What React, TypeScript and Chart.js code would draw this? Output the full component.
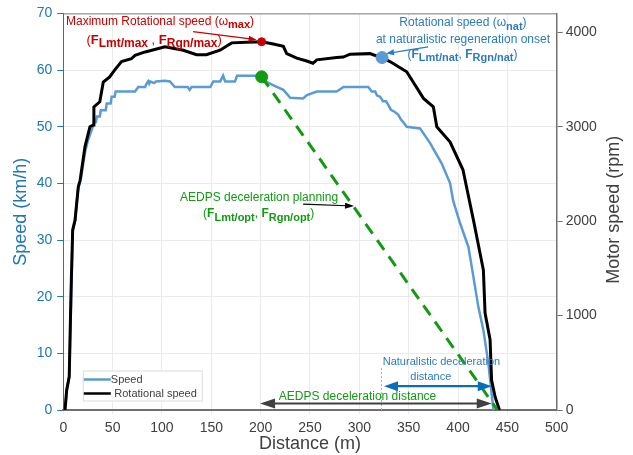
import React, { useEffect, useRef } from 'react';
import { Chart, registerables } from 'chart.js';

Chart.register(...registerables);

// Vehicle speed (km/h) vs distance (m)
const speedDist = [2, 3.5, 6, 8, 9.5, 12, 15, 18, 22, 25, 30, 31, 33, 34, 37, 38, 43, 44, 48, 49, 52, 53, 72.7, 76, 83, 84, 86, 87, 88, 92, 94, 103, 108, 111, 113, 126, 128, 130, 149, 152, 159, 162, 164, 174, 176, 199, 206, 213, 223, 230, 243, 247, 257, 277, 284, 309, 312.6, 316, 318, 321, 324, 327, 329.5, 332, 336, 339.5, 342, 345, 348, 361.5, 371.7, 383.5, 392, 395, 402, 410.5, 415.6, 420.6, 425.7, 430.8, 434, 436];
const speedKmh = [0, 3.5, 5.8, 20, 31.5, 33.5, 39, 41, 45.5, 47.6, 50, 50.8, 50.8, 51.8, 51.8, 52.9, 52.9, 54.1, 54.1, 55.3, 55.3, 56.2, 56.2, 57, 57, 57.5, 58, 57.6, 58, 57.7, 58, 58.1, 58, 57.4, 57, 57, 56.5, 57, 57, 58, 58, 59, 58, 58, 59, 59, 57.9, 57.3, 56.5, 55.1, 55, 55.6, 56.2, 56.2, 57, 57, 56.2, 56.2, 55.5, 55.3, 54.5, 54.5, 53.8, 53, 52.6, 52.1, 51.3, 50.7, 50, 49.7, 47.1, 43.5, 40, 37, 33, 28.8, 23.5, 18.2, 14.1, 8.2, 2.9, 0];

// Motor rotational speed (rpm) vs distance (m)
const rotDist = [1.7, 3.4, 6, 7.8, 9.5, 11.9, 15.2, 17, 22, 27, 30.4, 31, 37, 40.5, 47, 52, 59, 69, 72.7, 83, 103, 121.6, 135, 145, 158.8, 170.6, 185.9, 201, 212.8, 223, 226.4, 236.6, 246.7, 253, 256.9, 277, 283.8, 290.6, 310.9, 314, 323, 331, 348, 365, 375, 378.5, 392, 405, 416, 425.7, 427.4, 432.5, 434, 437.6, 442];
const rotRpm = [0, 210, 354, 1236, 1908, 2010, 2364, 2430, 2790, 3000, 3018, 3210, 3264, 3474, 3528, 3600, 3690, 3720, 3756, 3792, 3846, 3810, 3762, 3762, 3810, 3888, 3894, 3900, 3876, 3852, 3774, 3726, 3696, 3672, 3708, 3732, 3738, 3768, 3774, 3762, 3732, 3690, 3582, 3300, 3210, 3000, 2838, 2544, 1992, 1482, 1026, 744, 318, 138, 0];

// AEDPS planned deceleration (km/h)
const planDist = [201, 440];
const planKmh = [58.8, 0];

// Marked points
const maxRotPoint = { x: 201, y: 3900 };
const natRotPoint = { x: 323, y: 3732 };
const planStartPoint = { x: 201, y: 58.8 };

// Axes
const xTicks = [0, 50, 100, 150, 200, 250, 300, 350, 400, 450, 500];
const speedTicks = [0, 10, 20, 30, 40, 50, 60, 70];
const rpmTicks = [0, 1000, 2000, 3000, 4000];
const rpmMax = 4200;

const FONT = '"Liberation Sans", Arial, sans-serif';
const BLUE_AX = '#1f77b4';
const DARK = '#404040';
const RED = '#c80000';
const NAT_BLUE = '#2d7bbd';
const GREEN = '#139a13';

type Seg = { t: string; bold?: boolean; sub?: boolean };

function drawRich(ctx: CanvasRenderingContext2D, segs: Seg[], x: number, y: number, align: 'left' | 'center', size: number, color: string) {
  const fontOf = (s: Seg) => `${s.bold ? 'bold ' : ''}${s.sub ? Math.round(size * 0.9) : size}px ${FONT}`;
  let total = 0;
  const widths = segs.map((s) => {
    ctx.font = fontOf(s);
    const w = ctx.measureText(s.t).width;
    total += w;
    return w;
  });
  let cx = align === 'center' ? x - total / 2 : x;
  ctx.fillStyle = color;
  ctx.textBaseline = 'middle';
  ctx.textAlign = 'left';
  segs.forEach((s, i) => {
    ctx.font = fontOf(s);
    ctx.fillText(s.t, cx, s.sub ? y + size * 0.3 : y);
    cx += widths[i];
  });
}

function arrowHead(ctx: CanvasRenderingContext2D, tx: number, ty: number, angle: number, len: number, half: number, color: string) {
  ctx.save();
  ctx.translate(tx, ty);
  ctx.rotate(angle);
  ctx.beginPath();
  ctx.moveTo(0, 0);
  ctx.lineTo(-len, -half);
  ctx.lineTo(-len, half);
  ctx.closePath();
  ctx.fillStyle = color;
  ctx.fill();
  ctx.restore();
}

function arrow(ctx: CanvasRenderingContext2D, x1: number, y1: number, x2: number, y2: number, color: string, lw: number, len: number, half: number, both = false) {
  const ang = Math.atan2(y2 - y1, x2 - x1);
  ctx.save();
  ctx.strokeStyle = color;
  ctx.lineWidth = lw;
  ctx.beginPath();
  const sx = both ? x1 + Math.cos(ang) * len * 0.8 : x1;
  const sy = both ? y1 + Math.sin(ang) * len * 0.8 : y1;
  ctx.moveTo(sx, sy);
  ctx.lineTo(x2 - Math.cos(ang) * len * 0.8, y2 - Math.sin(ang) * len * 0.8);
  ctx.stroke();
  ctx.restore();
  arrowHead(ctx, x2, y2, ang, len, half, color);
  if (both) arrowHead(ctx, x1, y1, ang + Math.PI, len, half, color);
}

const annotPlugin = {
  id: 'annot',
  afterDatasetsDraw(chart: any) {
    const { ctx, chartArea, scales } = chart;
    const x = scales.x, y = scales.y, y2 = scales.y2;
    const P = (m: number, v: number) => [x.getPixelForValue(m), y.getPixelForValue(v)];
    ctx.save();

    // top border
    ctx.strokeStyle = '#808080';
    ctx.lineWidth = 1;
    ctx.beginPath();
    ctx.moveTo(chartArea.left, chartArea.top + 0.5);
    ctx.lineTo(chartArea.right, chartArea.top + 0.5);
    ctx.stroke();

    // Right axis title (reads bottom-to-top)
    ctx.save();
    ctx.translate(614, (chartArea.top + chartArea.bottom) / 2 - 2);
    ctx.rotate(-Math.PI / 2);
    ctx.font = `18px ${FONT}`;
    ctx.fillStyle = DARK;
    ctx.textAlign = 'center';
    ctx.textBaseline = 'middle';
    ctx.fillText('Motor speed (rpm)', 0, 0);
    ctx.restore();

    // Red annotation
    let [ax, ay] = P(2.7, 68.6);
    drawRich(ctx, [{ t: 'Maximum Rotational speed (ω' }, { t: 'max', bold: true, sub: true }, { t: ')' }], ax, ay, 'left', 12, RED);
    [ax, ay] = P(92, 65.3);
    drawRich(ctx, [{ t: '(' }, { t: 'F', bold: true }, { t: 'Lmt/max', bold: true, sub: true }, { t: ' , ' }, { t: 'F', bold: true }, { t: 'Rgn/max', bold: true, sub: true }, { t: ')' }], ax, ay, 'center', 13, RED);
    const rdx = x.getPixelForValue(maxRotPoint.x), rdy = y2.getPixelForValue(maxRotPoint.y);
    const [r1x, r1y] = P(131.5, 66.8);
    arrow(ctx, r1x, r1y, rdx - 5, rdy - 2, RED, 1.2, 8, 3);

    // Blue annotation
    [ax, ay] = P(405, 68.3);
    drawRich(ctx, [{ t: 'Rotational speed (ω' }, { t: 'nat', bold: true, sub: true }, { t: ')' }], ax, ay, 'center', 12, NAT_BLUE);
    [ax, ay] = P(405, 65.3);
    drawRich(ctx, [{ t: 'at naturalistic regeneration onset' }], ax, ay, 'center', 12, NAT_BLUE);
    [ax, ay] = P(404.5, 62.7);
    drawRich(ctx, [{ t: '(' }, { t: 'F', bold: true }, { t: 'Lmt/nat', bold: true, sub: true }, { t: ', ' }, { t: 'F', bold: true }, { t: 'Rgn/nat', bold: true, sub: true }, { t: ')' }], ax, ay, 'center', 12, NAT_BLUE);
    const bdx = x.getPixelForValue(natRotPoint.x), bdy = y2.getPixelForValue(natRotPoint.y);
    const [b1x, b1y] = P(369.7, 64.1);
    arrow(ctx, b1x, b1y, bdx + 4, bdy - 4, NAT_BLUE, 1.2, 8, 3);

    // Green planning annotation
    [ax, ay] = P(198.4, 37.4);
    drawRich(ctx, [{ t: 'AEDPS deceleration planning' }], ax, ay, 'center', 12, GREEN);
    [ax, ay] = P(198, 34.6);
    drawRich(ctx, [{ t: '(' }, { t: 'F', bold: true }, { t: 'Lmt/opt', bold: true, sub: true }, { t: ', ' }, { t: 'F', bold: true }, { t: 'Rgn/opt', bold: true, sub: true }, { t: ')' }], ax, ay, 'center', 12, GREEN);
    const [k1x, k1y] = P(243, 36.35);
    const [k2x, k2y] = P(294.6, 36.0);
    arrow(ctx, k1x, k1y, k2x, k2y, '#000000', 1.2, 9, 3);

    // Naturalistic deceleration distance
    [ax, ay] = P(323.7, 8.5);
    drawRich(ctx, [{ t: 'Naturalistic deceleration' }], ax, ay, 'left', 11, NAT_BLUE);
    [ax, ay] = P(372.4, 5.8);
    drawRich(ctx, [{ t: 'distance' }], ax, ay, 'center', 11, NAT_BLUE);
    const [d1x, dy] = P(325, 4.2);
    const [d2x] = P(434.2, 4.2);
    arrow(ctx, d1x, dy, d2x, dy, '#0a6db8', 2.2, 14, 5, true);
    const [gx, gy1] = P(321.7, 7.4);
    const [, gy2] = P(321.7, 0);
    ctx.save();
    ctx.strokeStyle = '#b0b0b0';
    ctx.lineWidth = 1;
    ctx.setLineDash([2, 2]);
    ctx.beginPath();
    ctx.moveTo(Math.round(gx) + 0.5, gy1);
    ctx.lineTo(Math.round(gx) + 0.5, gy2);
    ctx.stroke();
    ctx.restore();

    // AEDPS deceleration distance
    [ax, ay] = P(298.2, 2.35);
    drawRich(ctx, [{ t: 'AEDPS deceleration distance' }], ax, ay, 'center', 12, GREEN);
    const [e1x, ey] = P(199.4, 1.15);
    const [e2x] = P(434.2, 1.15);
    arrow(ctx, e1x, ey, e2x, ey, '#404040', 2.2, 15, 5, true);

    // Legend
    const lx = chartArea.left + 19.5, ly = chartArea.bottom - 39.5;
    ctx.fillStyle = '#ffffff';
    ctx.fillRect(lx, ly, 119.5, 31);
    ctx.strokeStyle = '#dcdcdc';
    ctx.lineWidth = 1;
    ctx.strokeRect(lx + 0.5, ly + 0.5, 119, 30);
    ctx.lineWidth = 2.5;
    ctx.strokeStyle = '#5b9bd5';
    ctx.beginPath(); ctx.moveTo(lx + 1, ly + 9); ctx.lineTo(lx + 28, ly + 9); ctx.stroke();
    ctx.strokeStyle = '#000000';
    ctx.beginPath(); ctx.moveTo(lx + 1, ly + 23); ctx.lineTo(lx + 28, ly + 23); ctx.stroke();
    drawRich(ctx, [{ t: 'Speed' }], lx + 28, ly + 9, 'left', 11, DARK);
    drawRich(ctx, [{ t: 'Rotational speed' }], lx + 31.5, ly + 23, 'left', 11, DARK);

    ctx.restore();
  },
};

const setTicks = (vals: number[]) => (s: any) => { s.ticks = vals.map((v) => ({ value: v })); };
const plain = (v: any) => String(v);

export default function App() {
  const ref = useRef<HTMLCanvasElement | null>(null);

  useEffect(() => {
    if (!ref.current) return;
    const chart = new Chart(ref.current, {
      type: 'line',
      data: {
        datasets: [
          {
            label: 'Speed',
            data: speedDist.map((d, i) => ({ x: d, y: speedKmh[i] })),
            yAxisID: 'y',
            borderColor: '#5b9bd5',
            borderWidth: 2.5,
            pointRadius: 0,
            tension: 0,
            order: 4,
          },
          {
            label: 'Rotational speed',
            data: rotDist.map((d, i) => ({ x: d, y: rotRpm[i] })),
            yAxisID: 'y2',
            borderColor: '#000000',
            borderWidth: 3,
            pointRadius: 0,
            tension: 0,
            order: 3,
          },
          {
            label: 'AEDPS planning',
            data: planDist.map((d, i) => ({ x: d, y: planKmh[i] })),
            yAxisID: 'y',
            borderColor: GREEN,
            borderWidth: 3,
            borderDash: [12, 8],
            pointRadius: 0,
            order: 2,
          },
          {
            label: 'max point',
            data: [maxRotPoint],
            yAxisID: 'y2',
            showLine: false,
            pointRadius: 4,
            pointBackgroundColor: RED,
            pointBorderColor: RED,
            order: 1,
          },
          {
            label: 'nat point',
            data: [natRotPoint],
            yAxisID: 'y2',
            showLine: false,
            pointRadius: 6,
            pointBackgroundColor: '#5b9bd5',
            pointBorderColor: '#5b9bd5',
            order: 1,
          },
          {
            label: 'plan point',
            data: [planStartPoint],
            yAxisID: 'y',
            showLine: false,
            pointRadius: 6,
            pointBackgroundColor: GREEN,
            pointBorderColor: GREEN,
            order: 1,
          },
        ],
      },
      options: {
        animation: false,
        responsive: false,
        maintainAspectRatio: false,
        layout: { padding: { top: 13, left: 0, right: 0, bottom: 0 } },
        plugins: { legend: { display: false }, tooltip: { enabled: false } },
        scales: {
          x: {
            type: 'linear',
            min: xTicks[0],
            max: xTicks[xTicks.length - 1],
            afterBuildTicks: setTicks(xTicks),
            ticks: { color: DARK, font: { family: FONT, size: 14 }, padding: 6, maxRotation: 0, autoSkip: false, callback: plain },
            grid: { color: '#ebebeb', tickColor: '#ebebeb', tickLength: 4 },
            border: { color: '#707070', width: 2 },
            title: { display: true, text: 'Distance (m)', color: DARK, font: { family: FONT, size: 18 }, padding: { top: 0, bottom: 0 } },
            afterFit: (s: any) => { s.height = 45; },
          },
          y: {
            type: 'linear',
            position: 'left',
            min: speedTicks[0],
            max: speedTicks[speedTicks.length - 1],
            afterBuildTicks: setTicks(speedTicks),
            ticks: { color: BLUE_AX, font: { family: FONT, size: 14 }, padding: 5, autoSkip: false, callback: plain },
            grid: { color: '#ebebeb', tickColor: BLUE_AX, tickLength: 6 },
            border: { color: BLUE_AX, width: 1 },
            title: { display: true, text: 'Speed (km/h)', color: BLUE_AX, font: { family: FONT, size: 18 }, padding: { top: 10, bottom: 0 } },
            afterFit: (s: any) => { s.width = 63.3; },
          },
          y2: {
            type: 'linear',
            position: 'right',
            min: 0,
            max: rpmMax,
            afterBuildTicks: setTicks(rpmTicks),
            ticks: { color: DARK, font: { family: FONT, size: 14 }, padding: 3, autoSkip: false, callback: plain },
            grid: { drawOnChartArea: false, tickColor: '#707070', tickLength: 6 },
            border: { color: '#707070', width: 1.5 },
            title: { display: false },
            afterFit: (s: any) => { s.width = 76.3; },
          },
        },
      },
      plugins: [annotPlugin],
    } as any);
    return () => chart.destroy();
  }, []);

  return (
    <div style={{ position: 'fixed', left: 0, top: 0, width: 633, height: 455, background: '#ffffff' }}>
      <canvas ref={ref} width={633} height={455} style={{ display: 'block', width: 633, height: 455 }} />
    </div>
  );
}
